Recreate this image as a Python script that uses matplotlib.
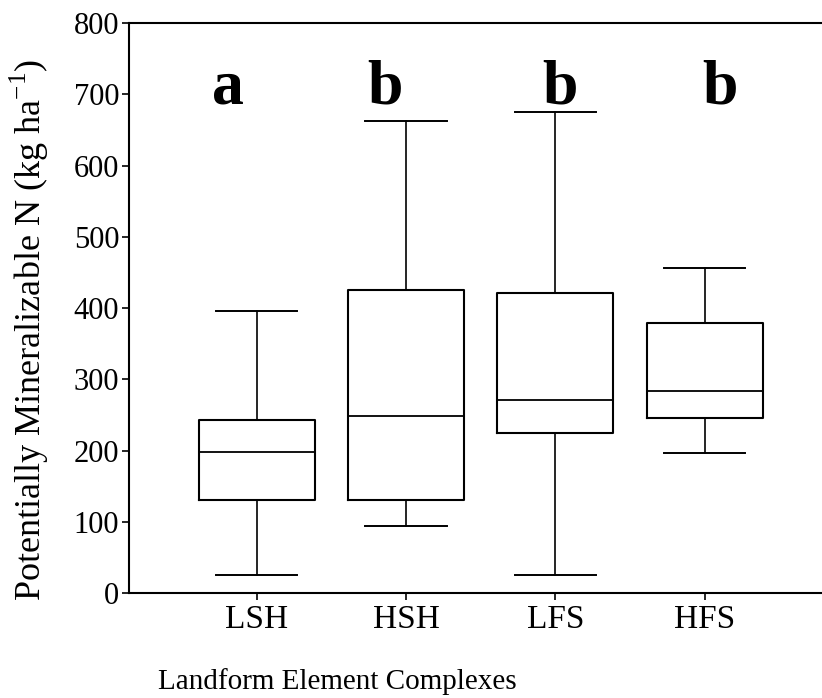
import matplotlib
matplotlib.use("Agg")
import matplotlib.pyplot as plt

plt.rcParams["font.family"] = ["Liberation Serif", "DejaVu Serif"]
plt.rcParams["mathtext.fontset"] = "custom"
plt.rcParams["mathtext.rm"] = "Liberation Serif"

# box statistics (kg/ha)
groups = ["LSH", "HSH", "LFS", "HFS"]
whislo = [25, 94, 25, 197]
q1 = [130, 130, 224, 245]
med = [198, 249, 271, 283]
q3 = [243, 425, 421, 379]
whishi = [396, 662, 675, 456]
letters = ["a", "b", "b", "b"]
letter_x = [0.81, 1.86, 3.03, 4.10]

stats = []
for i, g in enumerate(groups):
    stats.append(dict(label=g, whislo=whislo[i], q1=q1[i], med=med[i],
                      q3=q3[i], whishi=whishi[i], fliers=[]))

fig = plt.figure(figsize=(8.22, 6.98), dpi=100)
ax = fig.add_axes([0.157, 0.1504, 0.843, 0.8166])

ax.bxp(stats, positions=[1, 2, 3, 4], widths=0.777, showfliers=False,
       boxprops=dict(color="black", linewidth=1.5),
       medianprops=dict(color="black", linewidth=1.3),
       whiskerprops=dict(color="black", linewidth=1.2),
       capprops=dict(color="black", linewidth=1.4),
       capwidths=0.545)

for x, t in zip(letter_x, letters):
    ax.text(x, 687, t, ha="center", va="baseline", fontsize=46,
            fontweight="bold")

ax.set_xlim(0.145, 4.786)
ax.set_ylim(0, 800)
ax.set_yticks(range(0, 801, 100))
ax.spines["right"].set_visible(False)
for s in ["left", "bottom", "top"]:
    ax.spines[s].set_linewidth(1.5)
ax.tick_params(axis="both", direction="out", length=5, width=1.2, pad=2)
ax.tick_params(axis="y", labelsize=22)
ax.tick_params(axis="x", labelsize=24, pad=3)
ax.set_ylabel(r"Potentially Mineralizable N (kg ha$^{\mathregular{-1}}$)",
              fontsize=26)
ax.yaxis.set_label_coords(-0.113, 0.462)

fig.text(0.192, 0.005, "Landform Element Complexes", fontsize=21,
         ha="left", va="bottom")

fig.savefig("out.png", dpi=100)
